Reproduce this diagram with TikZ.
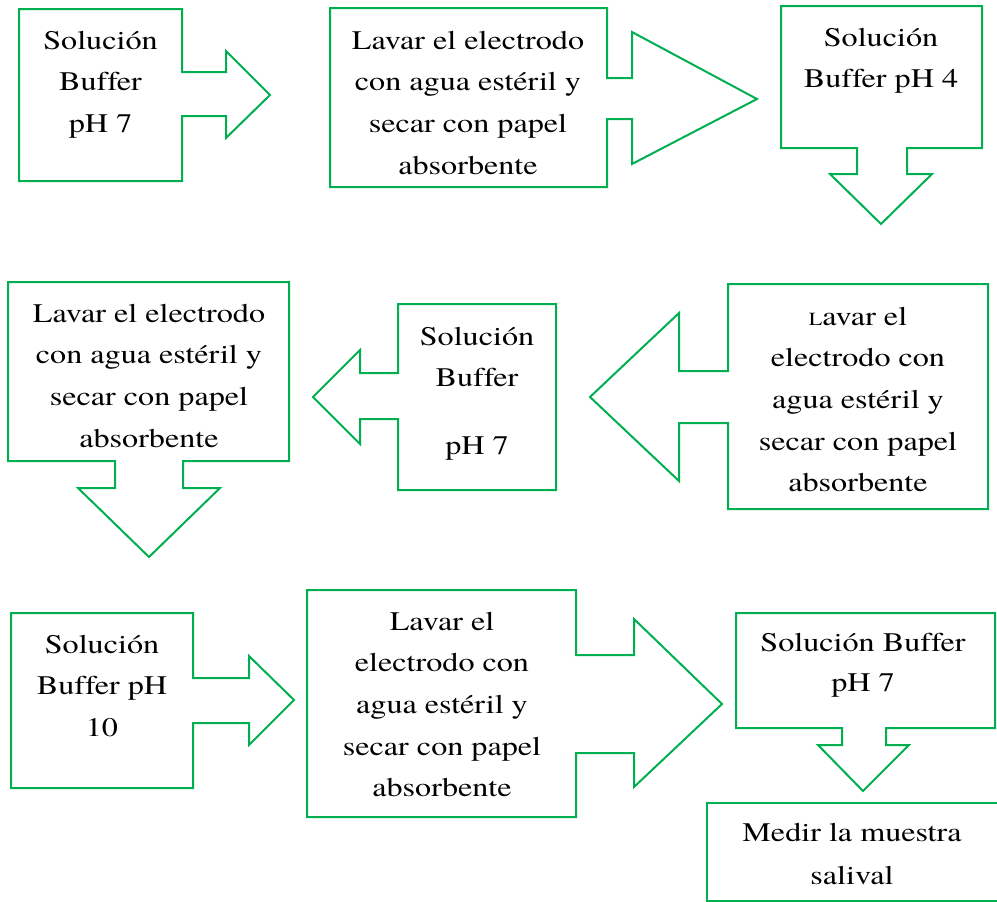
\documentclass[tikz,border=0pt]{standalone}
\usepackage{fontspec}
\setmainfont{texgyretermes}[Extension=.otf, UprightFont=*-regular, BoldFont=*-bold, ItalicFont=*-italic, BoldItalicFont=*-bolditalic, FakeStretch=1.2, Ligatures=CommonOff]
\definecolor{stepgreen}{RGB}{0,176,80}
% centred block of lines whose first baseline sits on the node's base
\newcommand{\steplines}[1]{\parbox[t]{320pt}{\centering\fontsize{26.8}{41.7}\selectfont #1}}
\tikzset{
  outline/.style={draw=stepgreen, line width=2pt, line join=miter, fill=white},
  lbl/.style={anchor=base, inner sep=0pt, outer sep=0pt}
}
\begin{document}
\begin{tikzpicture}[x=1pt, y=-1pt]
\useasboundingbox (0,0) rectangle (997,902);
\clip (0,0) rectangle (997,902);

% row 1
\draw[outline] (19,9) -- (182,9) -- (182,72) -- (226,72) -- (226,51) -- (270,95)
  -- (226,138) -- (226,116) -- (182,116) -- (182,181) -- (19,181) -- cycle;
\node[lbl] (t1) at (100.5,49) {\steplines{Solución\\Buffer\\pH 7}};

\draw[outline] (330,8) -- (607,8) -- (607,78) -- (632,78) -- (632,32) -- (757,99)
  -- (632,164) -- (632,119) -- (607,119) -- (607,187) -- (330,187) -- cycle;
\node[lbl] (t2) at (468,49) {\steplines{Lavar el electrodo\\con agua estéril y\\secar con papel\\absorbente}};

\draw[outline] (781,6) -- (982,6) -- (982,148) -- (907,148) -- (907,174) -- (932,174)
  -- (881,224) -- (830,174) -- (857,174) -- (857,148) -- (781,148) -- cycle;
\node[lbl] (t3) at (881,46) {\steplines{Solución\\Buffer pH 4}};

% row 2
\draw[outline] (8,282) -- (289,282) -- (289,461) -- (183,461) -- (183,488) -- (220,488)
  -- (149,557) -- (78,488) -- (115,488) -- (115,461) -- (8,461) -- cycle;
\node[lbl] (t4) at (149,322) {\steplines{Lavar el electrodo\\con agua estéril y\\secar con papel\\absorbente}};

\draw[outline] (398,304) -- (556,304) -- (556,490) -- (398,490) -- (398,419) -- (360,419)
  -- (360,444) -- (313,397) -- (360,350) -- (360,373) -- (398,373) -- cycle;
\node[lbl] (t5) at (477,345) {\steplines{Solución\\Buffer\\[26pt]pH 7}};

\draw[outline] (728,284) -- (988,284) -- (988,509) -- (728,509) -- (728,423) -- (679,423)
  -- (679,481) -- (590,397) -- (679,313) -- (679,371) -- (728,371) -- cycle;
\node[lbl] (t6) at (858,325) {\steplines{{\fontsize{18.5}{20}\selectfont L}avar el\\electrodo con\\agua estéril y\\secar con papel\\absorbente}};

% row 3
\draw[outline] (11,613) -- (193,613) -- (193,678) -- (249,678) -- (249,656) -- (294,700)
  -- (249,745) -- (249,723) -- (193,723) -- (193,788) -- (11,788) -- cycle;
\node[lbl] (t7) at (102,653) {\steplines{Solución\\Buffer pH\\10}};

\draw[outline] (307,590) -- (576,590) -- (576,655) -- (634,655) -- (634,619) -- (722,704)
  -- (634,787) -- (634,753) -- (576,753) -- (576,817) -- (307,817) -- cycle;
\node[lbl] (t8) at (442,630) {\steplines{Lavar el\\electrodo con\\agua estéril y\\secar con papel\\absorbente}};

\draw[outline] (736,613) -- (995,613) -- (995,728) -- (886,728) -- (886,745) -- (909,745)
  -- (863,791) -- (818,745) -- (842,745) -- (842,728) -- (736,728) -- cycle;
\node[lbl] (t9) at (863,651) {\steplines{Solución Buffer\\[-1.5pt]pH 7}};

% final step
\draw[outline] (707,803) rectangle (1005,901);
\node[lbl] (t10) at (852,841) {\steplines{Medir la muestra\\[2pt]salival}};
\end{tikzpicture}
\end{document}
